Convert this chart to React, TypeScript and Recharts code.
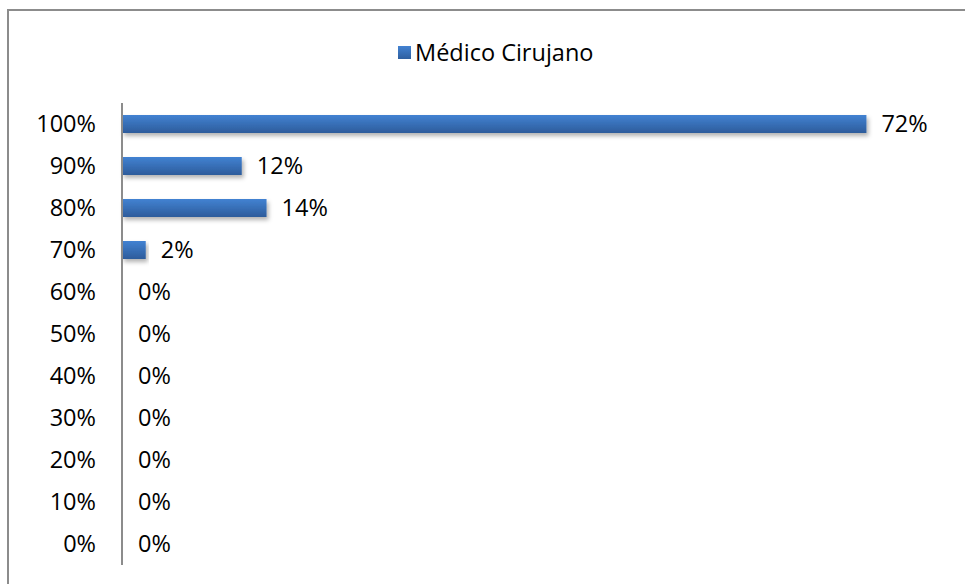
import { BarChart, Bar, XAxis, YAxis, Legend, LabelList, Rectangle } from 'recharts';

const categories = ['100%', '90%', '80%', '70%', '60%', '50%', '40%', '30%', '20%', '10%', '0%'];
const medicoCirujano = [72.1, 11.6, 14.0, 2.3, 0, 0, 0, 0, 0, 0, 0];
const seriesName = 'Médico Cirujano';

const data = categories.map((name, i) => ({ name, value: medicoCirujano[i] }));

const FONT = '"Open Sans", "Noto Sans", sans-serif';
const FS = 23.5;

const CustomLegend = () => (
  <div style={{ display: 'flex', alignItems: 'center', fontFamily: FONT, fontSize: FS, color: '#000', whiteSpace: 'nowrap' }}>
    <span
      style={{
        display: 'inline-block',
        width: 13,
        height: 13,
        marginRight: 4,
        background: 'linear-gradient(#4282d2, #2f5f9f)',
      }}
    />
    <span>{seriesName}</span>
  </div>
);

// zero values keep a 1px slot so their label is still placed, but draw nothing
const BarShape = (props: any) => {
  if (!props.value || Number(props.value) === 0) return <g />;
  return <Rectangle {...props} />;
};

export default function App() {
  return (
    <div style={{ position: 'absolute', left: 0, top: 0, width: 965, height: 584, overflow: 'hidden', background: '#fff' }}>
      <div
        style={{
          position: 'absolute',
          left: 7,
          top: 9,
          width: 1000,
          height: 600,
          borderLeft: '2px solid #8c8c8c',
          borderTop: '2px solid #8c8c8c',
        }}
      />
      <div style={{ position: 'absolute', left: 0, top: 0 }}>
        <BarChart
          width={965}
          height={584}
          data={data}
          layout="vertical"
          margin={{ top: 103, right: 17, bottom: 19, left: 22 }}
          barSize={18}
        >
          <defs>
            <linearGradient id="barFill" x1="0" y1="0" x2="0" y2="1">
              <stop offset="0%" stopColor="#4282d2" />
              <stop offset="100%" stopColor="#2d5c9b" />
            </linearGradient>
            <filter id="barShadow" x="-5%" y="-30%" width="115%" height="180%">
              <feDropShadow dx="2" dy="3" stdDeviation="2" floodColor="#000" floodOpacity="0.3" />
            </filter>
          </defs>
          <XAxis type="number" domain={[0, 80]} hide />
          <YAxis
            type="category"
            dataKey="name"
            width={100}
            axisLine={{ stroke: '#8c8c8c', strokeWidth: 2 }}
            tickLine={false}
            tickMargin={20}
            tick={{ fill: '#000', fontSize: FS, fontFamily: FONT }}
          />
          <Legend
            verticalAlign="middle"
            align="center"
            content={<CustomLegend />}
            wrapperStyle={{ top: 36, left: 398, width: 'auto' }}
          />
          <Bar
            dataKey="value"
            name={seriesName}
            fill="url(#barFill)"
            filter="url(#barShadow)"
            minPointSize={1}
            shape={<BarShape />}
            isAnimationActive={false}
          >
            <LabelList
              dataKey="value"
              position="right"
              offset={15}
              formatter={(v: any) => `${Math.round(Number(v))}%`}
              style={{ fill: '#000', fontSize: FS, fontFamily: FONT }}
            />
          </Bar>
        </BarChart>
      </div>
    </div>
  );
}
